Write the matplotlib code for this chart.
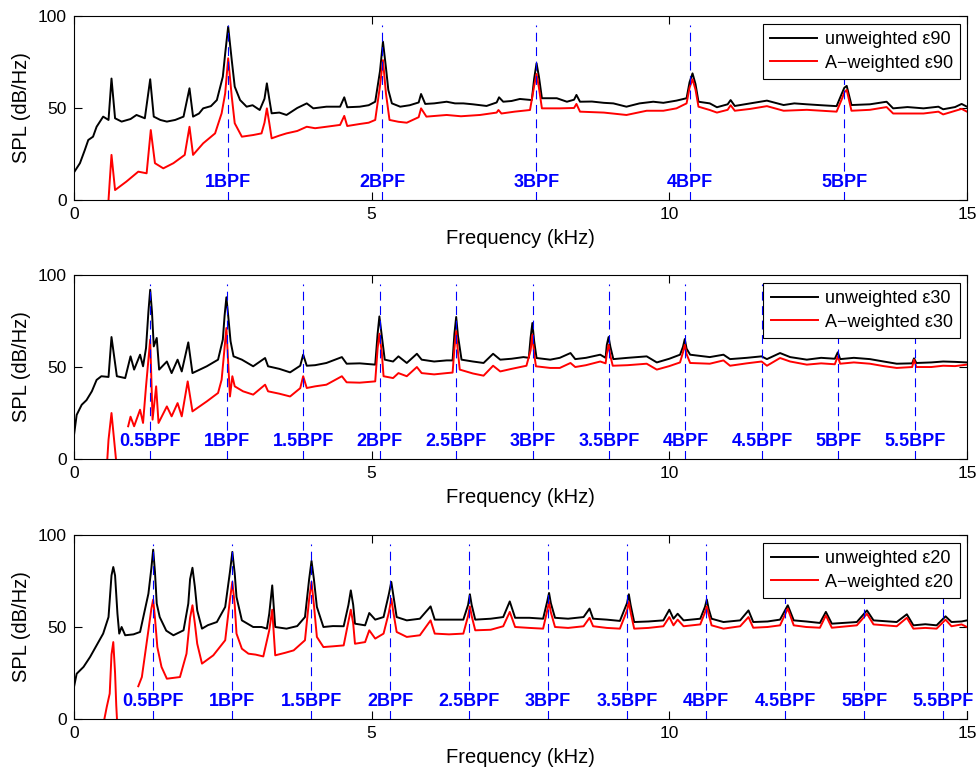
import numpy as np
import matplotlib
matplotlib.use("Agg")
import matplotlib.pyplot as plt

plt.rcParams['font.family'] = ['Liberation Sans', 'DejaVu Sans']

nan = np.nan

# spectra as (frequency kHz, SPL dB/Hz) pairs; nan pairs break the line
eps90_raw = [(0.00, 15), (0.10, 20), (0.18, 27), (0.24, 32.6), (0.32, 34.4), (0.38, 39.8), (0.49, 45.3),
             (0.58, 43.5), (0.63, 66), (0.69, 44.4), (0.80, 42.6), (0.95, 44), (1.05, 46.2), (1.19, 44.4),
             (1.28, 65.6), (1.34, 45.3), (1.45, 43.5), (1.56, 42.6), (1.70, 43.5), (1.84, 45.3), (1.94, 60.7),
             (2.00, 45.3), (2.10, 47), (2.17, 49.8), (2.30, 51), (2.40, 54.3), (2.50, 67), (2.54, 79.7),
             (2.59, 94.2), (2.65, 76), (2.70, 61.6), (2.79, 54.3), (2.90, 50.7), (3.00, 51.5), (3.12, 48.9),
             (3.20, 55), (3.24, 63.4), (3.28, 55), (3.32, 47.1), (3.45, 47.5), (3.57, 46.2), (3.75, 50),
             (3.91, 52.5), (4.02, 49.8), (4.24, 50.7), (4.47, 50.7), (4.54, 55.8), (4.59, 50.4), (4.80, 50.7),
             (4.95, 51.5), (5.06, 53.4), (5.14, 70), (5.19, 86), (5.24, 72), (5.28, 59.8), (5.34, 52.5),
             (5.48, 50.7), (5.64, 51.5), (5.79, 53), (5.83, 57.6), (5.90, 52.2), (6.05, 52.5), (6.26, 53.4),
             (6.40, 52.5), (6.54, 52.5), (6.70, 52), (6.93, 51.1), (7.10, 53), (7.14, 55.8), (7.21, 53.4),
             (7.35, 53.8), (7.49, 54.9), (7.69, 54.3), (7.73, 66), (7.77, 74.3), (7.81, 67), (7.86, 55.3),
             (8.11, 55.3), (8.28, 53.4), (8.40, 54.5), (8.44, 57.1), (8.50, 53.4), (8.70, 53.5), (8.90, 52.8),
             (9.06, 52.5), (9.28, 50.7), (9.50, 52.5), (9.73, 53.4), (9.90, 52.8), (10.12, 54), (10.29, 55.3),
             (10.34, 64), (10.39, 68.8), (10.44, 63), (10.49, 53.4), (10.68, 52.5), (10.80, 50.4), (10.98, 52),
             (11.03, 54.3), (11.10, 51.1), (11.36, 52.5), (11.64, 54), (11.92, 51.6), (12.10, 52.5),
             (12.31, 52), (12.55, 51.5), (12.81, 51), (12.90, 58), (12.94, 61), (12.98, 62), (13.06, 51.6),
             (13.37, 52), (13.65, 53.4), (13.76, 49.8), (14.00, 50.5), (14.27, 49.8), (14.52, 50.7),
             (14.60, 49.3), (14.80, 50.5), (14.91, 52.2), (15.00, 50.7)]
eps90_a = [(0.57, -5), (0.60, 10), (0.63, 24.5), (0.69, 5.4), (0.88, 10), (1.08, 15.4), (1.22, 14.5),
           (1.29, 38), (1.36, 20), (1.50, 17.2), (1.67, 20), (1.86, 24.5), (1.94, 39.8), (2.00, 24.5),
           (2.17, 30.8), (2.37, 36.2), (2.48, 47.1), (2.54, 58), (2.59, 77), (2.65, 56.2), (2.70, 41.7),
           (2.82, 34.4), (3.01, 35.3), (3.15, 36.2), (3.20, 42), (3.24, 49.8), (3.28, 42), (3.32, 33.5),
           (3.45, 35), (3.57, 36.2), (3.75, 37.5), (3.91, 39.8), (4.05, 39), (4.24, 39.8), (4.47, 40.8),
           (4.54, 45.7), (4.59, 40.2), (4.80, 41.3), (4.95, 42), (5.06, 43.5), (5.14, 62), (5.19, 76),
           (5.24, 58), (5.30, 43.5), (5.45, 42.5), (5.59, 42), (5.79, 45), (5.83, 49.8), (5.92, 45.3),
           (6.26, 46.2), (6.50, 45.5), (6.82, 46.2), (7.10, 47.5), (7.13, 48.9), (7.18, 47), (7.40, 48),
           (7.66, 48.9), (7.73, 62), (7.77, 68.5), (7.81, 61), (7.86, 49.8), (8.16, 49.8), (8.40, 50),
           (8.44, 52.2), (8.50, 48), (8.90, 47.5), (9.28, 46.2), (9.62, 48.5), (9.90, 48.5), (10.12, 49.8),
           (10.29, 52.5), (10.34, 61), (10.39, 65.6), (10.44, 60), (10.49, 50.7), (10.68, 48.9),
           (10.80, 47.5), (10.98, 49), (11.03, 51.5), (11.10, 48.5), (11.36, 49.5), (11.64, 51),
           (11.92, 48.5), (12.31, 49), (12.81, 48), (12.90, 55), (12.94, 58.5), (12.98, 59.8), (13.06, 48.5),
           (13.37, 49), (13.65, 50.5), (13.76, 47), (14.27, 47), (14.52, 48), (14.60, 46.5), (14.91, 49.5),
           (15.00, 48)]

eps30_raw = [(0.00, 13), (0.045, 24), (0.13, 29.5), (0.21, 32), (0.30, 36.8), (0.38, 43), (0.46, 45),
             (0.58, 44.6), (0.63, 66.3), (0.72, 45), (0.86, 44), (0.95, 55.8), (1.01, 48.6), (1.11, 56.7),
             (1.16, 50.4), (1.21, 60.3), (1.25, 80), (1.28, 92), (1.31, 80), (1.34, 61.2), (1.39, 65.8),
             (1.43, 48.6), (1.56, 53), (1.64, 46.7), (1.74, 54), (1.81, 47.6), (1.92, 63.4), (1.99, 46.7),
             (2.23, 50.4), (2.42, 54), (2.50, 64.9), (2.53, 78), (2.56, 87.9), (2.59, 78), (2.63, 64),
             (2.68, 55.8), (2.82, 54), (3.01, 50.4), (3.21, 54.9), (3.26, 50.4), (3.45, 49), (3.63, 47.1),
             (3.80, 50.7), (3.85, 56.7), (3.91, 50.7), (4.05, 51), (4.24, 52.2), (4.50, 55.4), (4.58, 51.8),
             (4.80, 52), (5.06, 51.3), (5.10, 68), (5.13, 77.5), (5.17, 67), (5.22, 54), (5.36, 53),
             (5.45, 55.8), (5.59, 52.2), (5.76, 57.2), (5.84, 54), (6.05, 53), (6.26, 53.6), (6.36, 53.6),
             (6.39, 68), (6.42, 77.2), (6.45, 67), (6.51, 54), (6.70, 53), (6.88, 52.2), (7.04, 57.2),
             (7.16, 54), (7.35, 54.5), (7.55, 55.4), (7.64, 55), (7.67, 66), (7.70, 73.9), (7.73, 64),
             (7.77, 54.9), (8.00, 54), (8.16, 55), (8.34, 57.6), (8.42, 54.3), (8.60, 55), (8.84, 56.7),
             (8.93, 55), (8.95, 62), (8.98, 66.3), (9.01, 61), (9.06, 54.3), (9.30, 55), (9.62, 55.8),
             (9.79, 52.5), (10.00, 54.5), (10.18, 56.7), (10.23, 61), (10.26, 65.2), (10.29, 60),
             (10.35, 56.7), (10.68, 55.4), (10.91, 56.7), (11.02, 54.3), (11.30, 55), (11.55, 55.8),
             (11.64, 54.3), (11.86, 57.6), (12.03, 55.4), (12.31, 54), (12.55, 55), (12.78, 54.5),
             (12.83, 58), (12.87, 54.3), (13.10, 55), (13.37, 54.3), (13.60, 53), (13.82, 51.8), (14.08, 52),
             (14.11, 54.7), (14.15, 52.2), (14.40, 52.5), (14.60, 53), (14.80, 52.8), (15.00, 52.5)]
eps30_a = [(0.55, -5), (0.58, 10.5), (0.63, 25), (0.69, 5), (0.72, -5), (nan, nan), (0.91, 17.8),
           (0.95, 23), (1.01, 17.8), (1.11, 26.8), (1.16, 19.6), (1.21, 39.5), (1.28, 64.9), (1.32, 21.4),
           (1.38, 39.5), (1.42, 19.6), (1.56, 28.6), (1.64, 23.2), (1.74, 30.4), (1.81, 23.2), (1.91, 42.2),
           (1.99, 25.9), (2.23, 31.3), (2.42, 35.9), (2.48, 43.1), (2.56, 71.2), (2.62, 34), (2.66, 45),
           (2.70, 39.5), (2.84, 36.8), (3.01, 35), (3.21, 40.4), (3.26, 36.8), (3.45, 35.5), (3.63, 34),
           (3.80, 38.5), (3.85, 45), (3.91, 38.6), (4.05, 39.5), (4.24, 40.4), (4.50, 45), (4.58, 41.7),
           (4.80, 41.5), (5.06, 42.2), (5.10, 60), (5.13, 68.1), (5.17, 58), (5.20, 45), (5.36, 44),
           (5.45, 46.7), (5.59, 45), (5.76, 50), (5.84, 46.7), (6.05, 46), (6.26, 46.7), (6.36, 47),
           (6.39, 60), (6.42, 69.4), (6.45, 58), (6.48, 48.6), (6.70, 46.5), (6.88, 45.3), (7.04, 50.7),
           (7.16, 47.6), (7.35, 49), (7.60, 50.7), (7.67, 59), (7.70, 67.6), (7.73, 57), (7.76, 50.4),
           (8.00, 49.5), (8.16, 49.5), (8.34, 52.2), (8.42, 50), (8.60, 51), (8.84, 53), (8.93, 52),
           (8.95, 57), (8.98, 62.1), (9.01, 56), (9.05, 50.7), (9.30, 51), (9.62, 51.8), (9.79, 48.6),
           (10.00, 50.5), (10.18, 52.5), (10.23, 58), (10.26, 62.1), (10.29, 57), (10.35, 52.2),
           (10.68, 51.8), (10.91, 53.6), (11.02, 50.7), (11.30, 52), (11.55, 53), (11.64, 50.7),
           (11.86, 54.9), (12.03, 53), (12.31, 51.3), (12.55, 52), (12.78, 51.5), (12.83, 55.8),
           (12.87, 51.8), (13.10, 52.5), (13.37, 51.8), (13.60, 50.5), (13.82, 49.5), (14.08, 50),
           (14.11, 54), (14.15, 50), (14.40, 50), (14.60, 50.7), (14.80, 50.5), (15.00, 51.3)]

eps20_raw = [(0.00, 17.4), (0.045, 24.6), (0.16, 28.3), (0.27, 33.7), (0.38, 40), (0.49, 46.4), (0.58, 55.4),
             (0.63, 78), (0.66, 82.6), (0.69, 78), (0.73, 57.2), (0.76, 46.4), (0.80, 50), (0.86, 45.5),
             (1.00, 46), (1.11, 47.3), (1.25, 68.1), (1.30, 82), (1.33, 92), (1.36, 80), (1.39, 62.7),
             (1.44, 55.4), (1.55, 48), (1.67, 45.5), (1.84, 48.2), (1.92, 62.7), (1.95, 76), (1.99, 82.2),
             (2.03, 72), (2.07, 59), (2.15, 49.1), (2.25, 51), (2.40, 52.7), (2.54, 60.9), (2.62, 80),
             (2.66, 90.8), (2.70, 79), (2.73, 66.3), (2.82, 53.6), (3.01, 50), (3.15, 50), (3.24, 49.1),
             (3.28, 57.2), (3.33, 72.6), (3.38, 50), (3.57, 49.1), (3.75, 50.5), (3.88, 55.4), (3.95, 76),
             (3.99, 85.9), (4.03, 76), (4.08, 60.9), (4.19, 50), (4.35, 50.5), (4.53, 50.4), (4.61, 62),
             (4.65, 69.9), (4.69, 62), (4.72, 51.8), (4.89, 50.9), (4.96, 57.6), (5.06, 54), (5.20, 55.4),
             (5.29, 68), (5.33, 74.5), (5.37, 66), (5.42, 55.4), (5.59, 53.6), (5.81, 54.5), (5.99, 61.2),
             (6.06, 54), (6.30, 54), (6.54, 54), (6.62, 62), (6.65, 67.8), (6.68, 62), (6.74, 54), (7.00, 54.5),
             (7.21, 55.4), (7.32, 63.9), (7.41, 55), (7.65, 55), (7.88, 54.5), (7.95, 64), (7.98, 68.5),
             (8.01, 63), (8.08, 55), (8.30, 54.5), (8.56, 55.4), (8.66, 60), (8.72, 54.5), (8.95, 54),
             (9.17, 53.3), (9.29, 63), (9.32, 67.8), (9.35, 62), (9.41, 52.7), (9.65, 53), (9.90, 53.6),
             (10.00, 59.4), (10.07, 54.5), (10.14, 57.2), (10.24, 53.6), (10.52, 54.5), (10.60, 61),
             (10.63, 64.9), (10.66, 60), (10.71, 54.5), (10.91, 52.7), (11.19, 53.6), (11.33, 59),
             (11.41, 52.7), (11.65, 53), (11.86, 54), (11.99, 61.8), (12.09, 53.6), (12.30, 53),
             (12.53, 52.2), (12.63, 58.2), (12.73, 51.8), (13.15, 52.7), (13.32, 59), (13.43, 53.6),
             (13.82, 52.7), (13.99, 56.9), (14.10, 50.9), (14.30, 51.5), (14.49, 50.9), (14.64, 55.8),
             (14.74, 52.7), (14.91, 53), (15.00, 53.6)]
eps20_a = [(0.48, -5), (0.55, 6.5), (0.60, 13.8), (0.63, 35), (0.66, 41.8), (0.69, 25), (0.71, 7.4),
           (0.73, -5), (nan, nan), (1.08, 17.8), (1.14, 22.8), (1.25, 48.2), (1.30, 60), (1.33, 64.9),
           (1.36, 55), (1.40, 39.1), (1.47, 28.3), (1.56, 21.9), (1.78, 22.8), (1.89, 35.5), (1.95, 55),
           (1.99, 61.8), (2.03, 52), (2.07, 40.9), (2.15, 30.1), (2.34, 34.6), (2.54, 42.8), (2.62, 65),
           (2.66, 74.5), (2.70, 62), (2.73, 46.4), (2.82, 38.2), (2.93, 35.5), (3.05, 35), (3.18, 34),
           (3.28, 48.2), (3.33, 59.4), (3.38, 34.6), (3.55, 36), (3.69, 37.3), (3.88, 42.8), (3.95, 65),
           (3.99, 74.5), (4.03, 62), (4.08, 44.6), (4.19, 39.1), (4.35, 39.5), (4.53, 40), (4.61, 53),
           (4.65, 59.4), (4.69, 52), (4.72, 40.9), (4.89, 41.8), (4.96, 48.2), (5.06, 43.7), (5.20, 46.4),
           (5.29, 58), (5.33, 65.4), (5.37, 57), (5.42, 47.3), (5.59, 44.6), (5.81, 45.5), (5.99, 53.6),
           (6.06, 46.4), (6.30, 46), (6.54, 46.4), (6.62, 56), (6.65, 61.2), (6.68, 56), (6.74, 48.2),
           (7.00, 48.5), (7.21, 50.4), (7.32, 58.2), (7.41, 50), (7.65, 49.5), (7.88, 49.1), (7.95, 59),
           (7.98, 63.6), (8.01, 58), (8.08, 50), (8.30, 49.5), (8.56, 50.4), (8.66, 55), (8.72, 50.4),
           (8.95, 49.5), (9.17, 49.1), (9.29, 59), (9.32, 63.6), (9.35, 58), (9.41, 49.1), (9.65, 49.5),
           (9.90, 50.4), (10.00, 55.4), (10.07, 50.9), (10.14, 54), (10.24, 50.4), (10.52, 51.4),
           (10.60, 58), (10.63, 61.2), (10.66, 57), (10.71, 50.9), (10.91, 49.1), (11.19, 50.4),
           (11.33, 55.4), (11.41, 49.6), (11.65, 50), (11.86, 50.9), (11.99, 60), (12.09, 50.9), (12.30, 50),
           (12.53, 49.6), (12.63, 56.3), (12.73, 49.6), (13.15, 50.9), (13.32, 57.2), (13.43, 51.4),
           (13.82, 50.4), (13.99, 55), (14.10, 49.1), (14.30, 49.5), (14.49, 49.1), (14.64, 54),
           (14.74, 50.4), (14.91, 51.4), (15.00, 50)]

# blade passing frequencies (kHz) and marked harmonic orders
bpf = [2.588, 2.568, 2.655]
orders_90 = [1, 2, 3, 4, 5]
orders_half = [0.5, 1, 1.5, 2, 2.5, 3, 3.5, 4, 4.5, 5, 5.5]
cases = ['\u03b590', '\u03b530', '\u03b520']


def draw_panel(ax, raw, weighted, fb, orders, case):
    f, s = zip(*raw)
    ax.plot(f, s, color='k', lw=1.4, zorder=2, label='unweighted ' + case)
    f, s = zip(*weighted)
    ax.plot(f, s, color='r', lw=1.4, zorder=2, label='A\u2212weighted ' + case)
    for k in orders:
        x = k * fb
        ax.plot([x, x], [0, 95], color='b', lw=0.8, ls=(0, (8, 5)), zorder=3)
        ax.text(x, 9.3, f"{k:g}BPF", color='b', fontsize=13, fontweight='bold',
                ha='center', va='center', zorder=4,
                bbox=dict(facecolor='white', edgecolor='none', pad=0.5))
    ax.set_xlim(0, 15)
    ax.set_ylim(0, 100)
    ax.set_xticks([0, 5, 10, 15])
    ax.set_yticks([0, 50, 100])
    ax.tick_params(direction='in', length=6, top=True, right=True, labelsize=12.5,
                   width=0.8, pad=5)
    for sp in ax.spines.values():
        sp.set_linewidth(0.8)
    ax.set_xlabel('Frequency (kHz)', fontsize=14.5, labelpad=5)
    ax.set_ylabel('SPL (dB/Hz)', fontsize=14.5, labelpad=5)
    leg = ax.legend(loc='upper right', bbox_to_anchor=(1 - 7 / 893, 1 - 8 / 184),
                    borderaxespad=0, fancybox=False, edgecolor='k', framealpha=1,
                    fontsize=13, handlelength=2.6, handletextpad=0.4,
                    borderpad=0.4, labelspacing=0.35)
    leg.get_frame().set_linewidth(0.8)
    leg.set_zorder(5)


fig = plt.figure(figsize=(9.8, 7.68), dpi=100)
ax1 = fig.add_axes([0.0755, 0.7396, 0.9112, 0.2396])
ax2 = fig.add_axes([0.0755, 0.4023, 0.9112, 0.2396])
ax3 = fig.add_axes([0.0755, 0.0638, 0.9112, 0.2396])

draw_panel(ax1, eps90_raw, eps90_a, bpf[0], orders_90, cases[0])
draw_panel(ax2, eps30_raw, eps30_a, bpf[1], orders_half, cases[1])
draw_panel(ax3, eps20_raw, eps20_a, bpf[2], orders_half, cases[2])

fig.savefig('out.png', dpi=100, facecolor='white')
